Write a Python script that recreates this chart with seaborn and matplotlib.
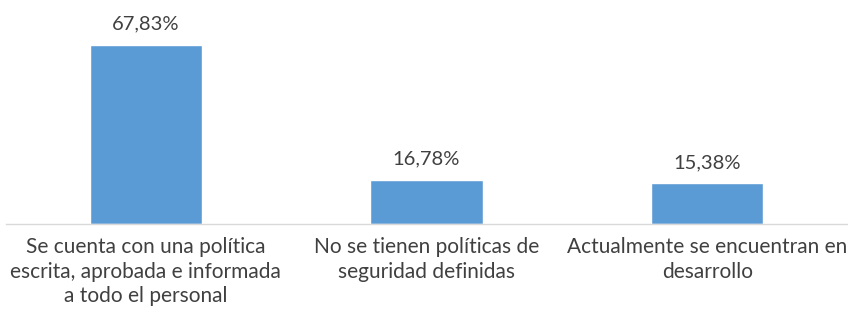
import matplotlib
matplotlib.use("Agg")
import matplotlib.pyplot as plt
import seaborn as sns
import pandas as pd

categories = [
    "Se cuenta con una política\nescrita, aprobada e informada\na todo el personal",
    "No se tienen políticas de\nseguridad definidas",
    "Actualmente se encuentran en\ndesarrollo",
]
values = [67.83, 16.78, 15.38]
value_labels = ["67,83%", "16,78%", "15,38%"]

sns.set_theme(style="white")
plt.rcParams['font.family'] = ['Lato', 'DejaVu Sans']

df = pd.DataFrame({"cat": categories, "val": values})

fig = plt.figure(figsize=(8.48, 3.2), dpi=100)
ax = fig.add_axes([5.5 / 848, 0.3, 842 / 848, 0.7])
sns.barplot(data=df, x="cat", y="val", color="#5B9BD5", saturation=1, width=0.4, ax=ax)
ax.set_ylim(0, 84.9)
ax.set_xlim(-0.5, 2.5)
for s in ["top", "right", "left"]:
    ax.spines[s].set_visible(False)
ax.spines["bottom"].set_color("#D9D9D9")
ax.spines["bottom"].set_linewidth(1)
ax.set_yticks([])
ax.set_xlabel("")
ax.set_ylabel("")
ax.tick_params(axis="x", length=0, pad=9.5, labelsize=15, labelcolor="#404040")
for t in ax.get_xticklabels():
    t.set_multialignment("center")
    t.set_linespacing(1.28)
for p, lab in zip(ax.patches, value_labels):
    ax.annotate(lab, (p.get_x() + p.get_width() / 2, p.get_height()),
                xytext=(0, 9), textcoords="offset points", ha="center", va="bottom",
                fontsize=14.5, color="#404040")
fig.savefig("out.png", dpi=100)
